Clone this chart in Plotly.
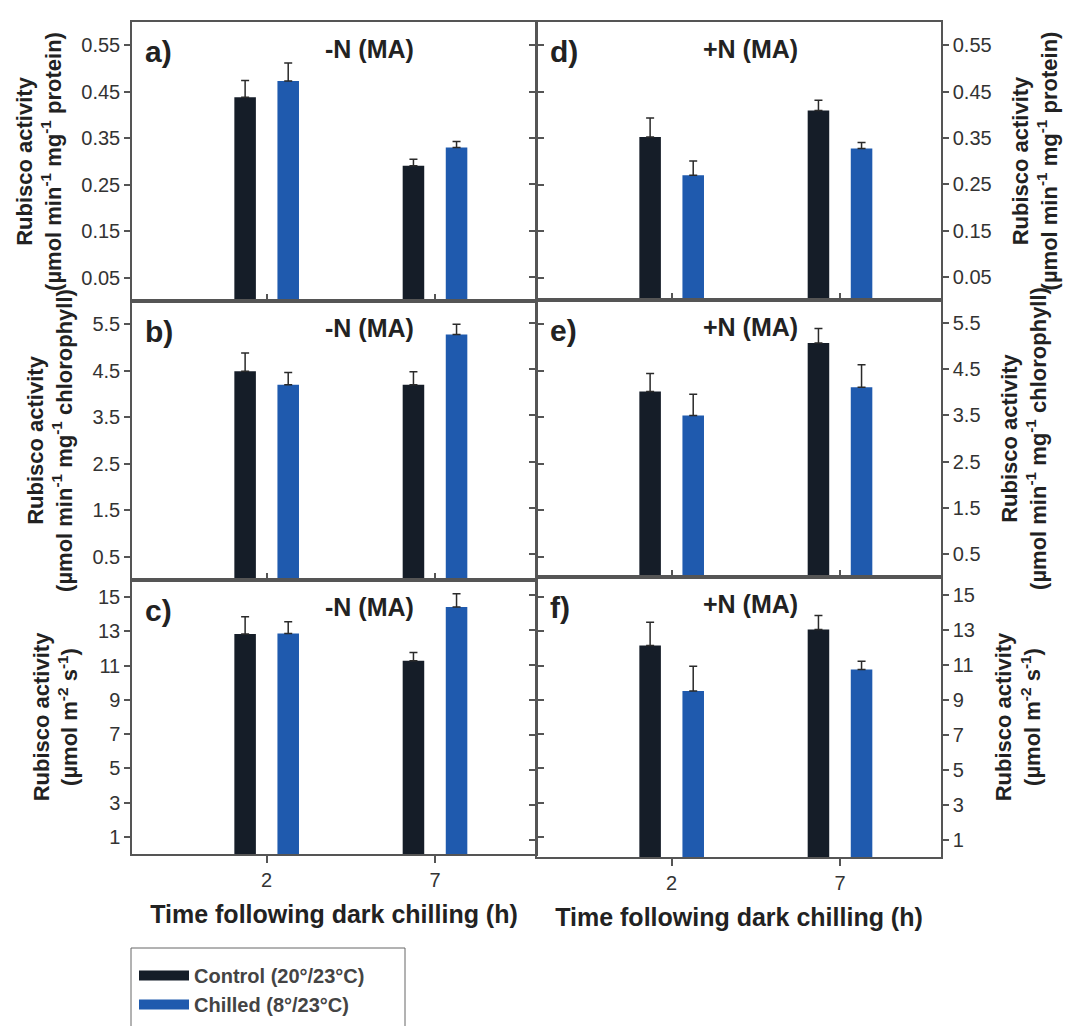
import plotly.graph_objects as go

# Sampling times after dark chilling (h)
times = [2, 7]

# Rubisco activity, -N (MA): per protein, per chlorophyll, per leaf area
a_control = [0.438, 0.291]
a_control_err = [0.036, 0.014]
a_chilled = [0.473, 0.330]
a_chilled_err = [0.039, 0.013]

b_control = [4.49, 4.20]
b_control_err = [0.39, 0.28]
b_chilled = [4.20, 5.28]
b_chilled_err = [0.26, 0.22]

c_control = [12.85, 11.29]
c_control_err = [1.00, 0.48]
c_chilled = [12.88, 14.42]
c_chilled_err = [0.68, 0.77]

# Rubisco activity, +N (MA)
d_control = [0.352, 0.409]
d_control_err = [0.041, 0.022]
d_chilled = [0.269, 0.327]
d_chilled_err = [0.031, 0.013]

e_control = [4.02, 5.07]
e_control_err = [0.39, 0.31]
e_chilled = [3.50, 4.11]
e_chilled_err = [0.46, 0.49]

f_control = [12.08, 13.00]
f_control_err = [1.34, 0.80]
f_chilled = [9.49, 10.71]
f_chilled_err = [1.41, 0.48]

# Axis ticks
ticks_protein = [0.05, 0.15, 0.25, 0.35, 0.45, 0.55]
ticks_chl = [0.5, 1.5, 2.5, 3.5, 4.5, 5.5]
ticks_area = [1, 3, 5, 7, 9, 11, 13, 15]

series_names = ["Control (20°/23°C)", "Chilled (8°/23°C)"]
panel_letters = ["a)", "b)", "c)", "d)", "e)", "f)"]
panel_titles = ["-N (MA)", "-N (MA)", "-N (MA)", "+N (MA)", "+N (MA)", "+N (MA)"]
x_title = "Time following dark chilling (h)"

title_protein = "Rubisco activity<br>(µmol min<sup>-1</sup> mg<sup>-1</sup> protein)"
title_chl = "Rubisco activity<br>(µmol min<sup>-1</sup> mg<sup>-1</sup> chlorophyll)"
title_area = "Rubisco activity<br>(µmol m<sup>-2</sup> s<sup>-1</sup>)"

CONTROL_COLOR = "#151d28"
CHILLED_COLOR = "#1f5aae"
LINE_COLOR = "#555555"
TEXT_COLOR = "#333333"
FONT = "Liberation Sans, Arial, sans-serif"

W, H = 1066, 1026


def xdom(left, right):
    return [left / W, right / W]


def ydom(top, bottom):
    return [1 - bottom / H, 1 - top / H]


panels = [
    # control, control err, chilled, chilled err, y range, ticks, title, side, x domain, y domain, bottom row
    (a_control, a_control_err, a_chilled, a_chilled_err, [0, 0.6], ticks_protein, title_protein,
     "left", xdom(132, 536), ydom(22, 301), False),
    (b_control, b_control_err, b_chilled, b_chilled_err, [0, 6], ticks_chl, title_chl,
     "left", xdom(132, 536), ydom(301, 580), False),
    (c_control, c_control_err, c_chilled, c_chilled_err, [0, 16], ticks_area, title_area,
     "left", xdom(132, 536), ydom(580, 854), True),
    (d_control, d_control_err, d_chilled, d_chilled_err, [0, 0.6], ticks_protein, title_protein,
     "right", xdom(537, 941), ydom(22, 300), False),
    (e_control, e_control_err, e_chilled, e_chilled_err, [0, 6], ticks_chl, title_chl,
     "right", xdom(537, 941), ydom(300, 577), False),
    (f_control, f_control_err, f_chilled, f_chilled_err, [0, 16], ticks_area, title_area,
     "right", xdom(537, 941), ydom(577, 857), True),
]

fig = go.Figure()
layout = {}
annotations = []

for i, (ctl, ctl_err, chl, chl_err, yrange, yticks, ytitle, side, xd, yd, bottom) in enumerate(panels, start=1):
    xa, ya = f"x{i}", f"y{i}"
    for vals, errs, color, name in ((ctl, ctl_err, CONTROL_COLOR, series_names[0]),
                                    (chl, chl_err, CHILLED_COLOR, series_names[1])):
        fig.add_trace(go.Bar(
            x=times, y=vals, name=name, xaxis=xa, yaxis=ya,
            marker=dict(color=color, line=dict(width=0)),
            error_y=dict(type="data", array=errs, arrayminus=[0] * len(errs), symmetric=False,
                         color="#2a2a2a", thickness=1.5, width=4),
            showlegend=False,
        ))

    key = "" if i == 1 else str(i)
    layout[f"xaxis{key}"] = dict(
        domain=xd, anchor=ya, range=[-2, 10], tickvals=times,
        ticktext=[str(t) for t in times], showticklabels=bottom,
        ticks="outside" if bottom else "inside", ticklen=7, tickwidth=1.5, tickcolor=LINE_COLOR,
        showline=True, linecolor=LINE_COLOR, linewidth=1.5, mirror=True,
        showgrid=False, zeroline=False,
        tickfont=dict(family=FONT, size=20, color=TEXT_COLOR),
        title=dict(text=x_title if bottom else "", standoff=16,
                   font=dict(family=FONT, size=25, color="#222222", weight="bold")),
    )
    layout[f"yaxis{key}"] = dict(
        domain=yd, anchor=xa, range=yrange, tickvals=yticks,
        ticktext=[f"{v:g}" if yrange[1] > 1 else f"{v:.2f}" for v in yticks],
        side=side, ticks="outside", ticklen=6, tickwidth=1.5, tickcolor=LINE_COLOR,
        showline=True, linecolor=LINE_COLOR, linewidth=1.5, mirror="ticks",
        showgrid=False, zeroline=False,
        tickfont=dict(family=FONT, size=20, color=TEXT_COLOR),
        title=dict(text=ytitle, standoff=14 if side == "left" else 22,
                   font=dict(family=FONT, size=22, color="#222222", weight="bold")),
    )

    # panel letter and treatment label
    top_px = (1 - yd[1]) * H
    left_px = xd[0] * W
    title_offset = 237 if side == "left" else 213
    annotations.append(dict(
        text=panel_letters[i - 1], xref="paper", yref="paper",
        x=(left_px + 11) / W, y=1 - (top_px + 30) / H, xanchor="left", yanchor="middle",
        showarrow=False, font=dict(family=FONT, size=30, color="#222222", weight="bold"),
    ))
    annotations.append(dict(
        text=panel_titles[i - 1], xref="paper", yref="paper",
        x=(left_px + title_offset) / W, y=1 - (top_px + 27) / H, xanchor="center", yanchor="middle",
        showarrow=False, font=dict(family=FONT, size=25, color="#222222", weight="bold"),
    ))

# legend entries drawn as thick line swatches
for name, color in zip(series_names, (CONTROL_COLOR, CHILLED_COLOR)):
    fig.add_trace(go.Scatter(
        x=[None], y=[None], mode="lines", name=name,
        line=dict(color=color, width=10), xaxis="x1", yaxis="y1", showlegend=True,
    ))

# frame around the legend, running off the bottom edge
legend_frame = dict(
    type="rect", xref="paper", yref="paper",
    x0=131 / W, x1=405 / W, y0=-0.02, y1=1 - 948 / H,
    line=dict(color="#666666", width=1), fillcolor="rgba(0,0,0,0)", layer="above",
)

fig.update_layout(
    width=W, height=H,
    margin=dict(l=0, r=0, t=0, b=0),
    paper_bgcolor="white", plot_bgcolor="white",
    barmode="group", bargap=0.488, bargroupgap=0.5,
    annotations=annotations,
    shapes=[legend_frame],
    legend=dict(
        x=134 / W, y=1 - 956 / H, xanchor="left", yanchor="top",
        borderwidth=0, bgcolor="rgba(0,0,0,0)",
        font=dict(family=FONT, size=20, color="#444444", weight="bold"),
        itemwidth=50, tracegroupgap=0,
    ),
    **layout,
)

fig.write_html("out.html")
